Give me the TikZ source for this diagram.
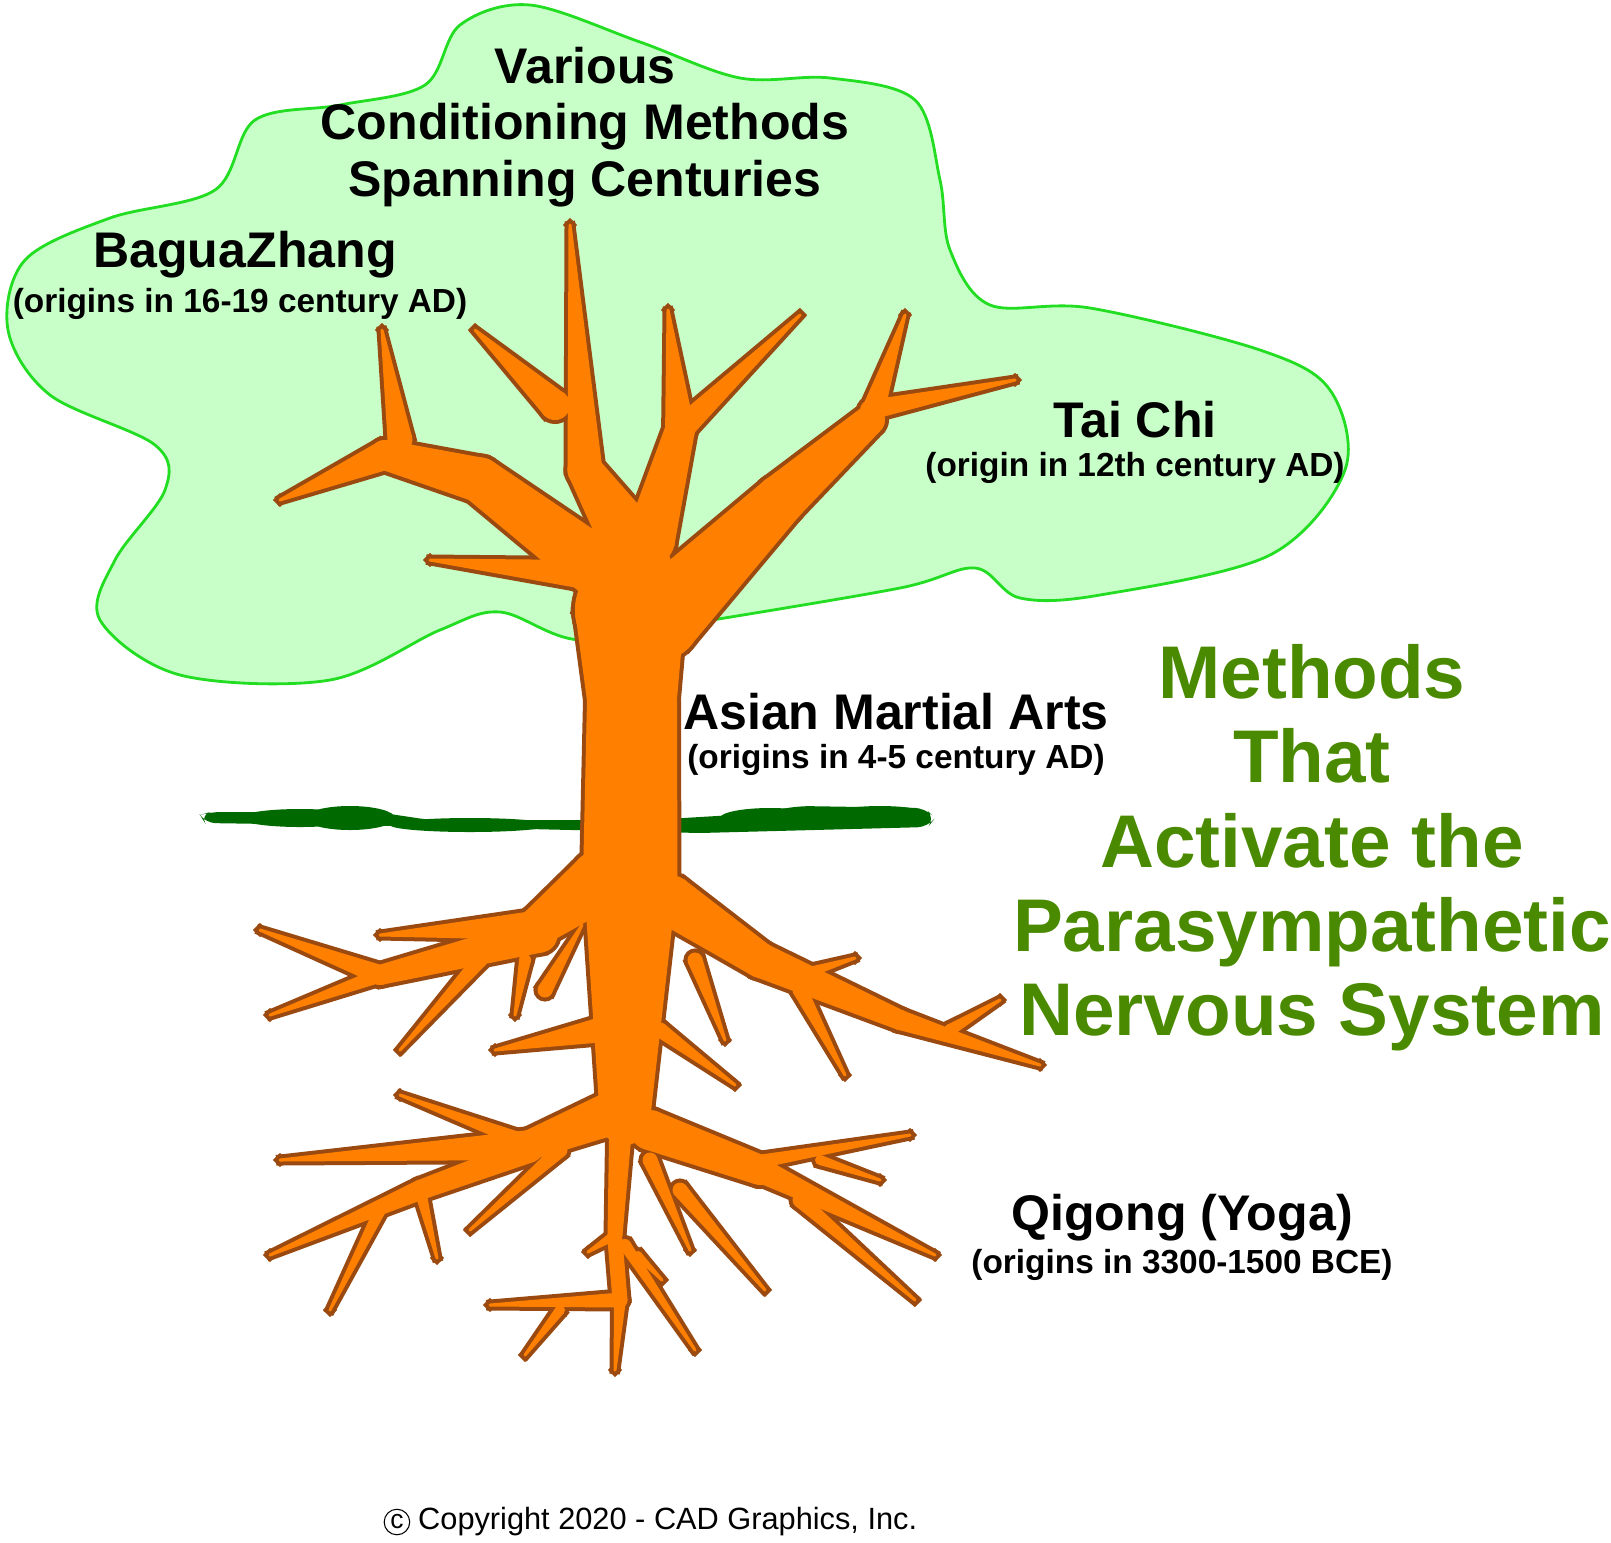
\documentclass[tikz,border=0pt]{standalone}
\usepackage{fontspec}
\setmainfont{Liberation Sans}
\usetikzlibrary{calc}
\definecolor{cloudfill}{HTML}{C8FFC8}
\definecolor{cloudline}{HTML}{22DD22}
\definecolor{bark}{HTML}{FF8000}
\definecolor{barkline}{HTML}{9A4A10}
\definecolor{grass}{HTML}{006A00}
\definecolor{titlegreen}{HTML}{4A8A00}
\newcommand\seg[4]{%
 \path[treepass] ($(#1)!#3cm!90:(#2)$) -- ($(#2)!#4cm!-90:(#1)$) -- ($(#2)!#4cm!90:(#1)$) -- ($(#1)!#3cm!-90:(#2)$) -- cycle;
 \path[treepass] (#1) circle (#3cm);
 \path[treepass] (#2) circle (#4cm);}
\newcommand\treeparts{%
 \seg{625,1120}{630,900}{0.5}{0.9}
 \seg{630,900}{632,700}{0.95}{0.9}
 \seg{632,700}{630,610}{0.9}{1.1}
 \seg{630,610}{630,540}{1.1}{0.7}
 \seg{630,540}{585,470}{0.6}{0.35}
 \seg{585,470}{570,225}{0.35}{0.03}
 \seg{555,405}{475,330}{0.3}{0.03}
 \seg{600,570}{480,480}{0.6}{0.45}
 \seg{480,480}{385,455}{0.45}{0.3}
 \seg{385,455}{280,500}{0.3}{0.03}
 \seg{400,440}{382,330}{0.25}{0.03}
 \seg{590,575}{430,560}{0.3}{0.03}
 \seg{650,540}{680,430}{0.5}{0.3}
 \seg{680,430}{668,310}{0.3}{0.03}
 \seg{680,430}{800,315}{0.25}{0.03}
 \seg{660,620}{780,500}{0.8}{0.5}
 \seg{780,500}{870,420}{0.5}{0.3}
 \seg{870,420}{905,315}{0.25}{0.03}
 \seg{870,410}{1015,380}{0.2}{0.03}
 \seg{600,880}{540,925}{0.6}{0.4}
 \seg{540,925}{380,935}{0.3}{0.03}
 \seg{540,935}{380,975}{0.35}{0.2}
 \seg{380,975}{260,930}{0.2}{0.03}
 \seg{380,975}{270,1015}{0.15}{0.03}
 \seg{480,960}{400,1050}{0.15}{0.03}
 \seg{525,960}{515,1015}{0.12}{0.03}
 \seg{545,990}{582,925}{0.15}{0.03}
 \seg{600,1030}{495,1050}{0.25}{0.03}
 \seg{670,900}{760,960}{0.5}{0.35}
 \seg{760,960}{900,1020}{0.35}{0.2}
 \seg{900,1020}{1040,1065}{0.2}{0.03}
 \seg{950,1030}{1000,1000}{0.12}{0.03}
 \seg{800,975}{855,958}{0.12}{0.03}
 \seg{800,990}{845,1075}{0.15}{0.03}
 \seg{695,960}{725,1040}{0.15}{0.03}
 \seg{660,1030}{735,1085}{0.15}{0.03}
 \seg{620,1110}{530,1145}{0.45}{0.3}
 \seg{530,1145}{280,1160}{0.3}{0.03}
 \seg{520,1140}{400,1095}{0.15}{0.03}
 \seg{530,1150}{420,1190}{0.25}{0.2}
 \seg{420,1190}{270,1255}{0.2}{0.03}
 \seg{420,1190}{437,1258}{0.12}{0.03}
 \seg{380,1210}{330,1310}{0.12}{0.03}
 \seg{560,1150}{470,1230}{0.15}{0.03}
 \seg{620,1140}{615,1235}{0.22}{0.15}
 \seg{615,1235}{588,1252}{0.1}{0.03}
 \seg{615,1240}{620,1300}{0.15}{0.15}
 \seg{620,1300}{490,1305}{0.15}{0.03}
 \seg{560,1310}{525,1355}{0.1}{0.03}
 \seg{620,1300}{615,1370}{0.12}{0.03}
 \seg{625,1245}{695,1350}{0.12}{0.03}
 \seg{638,1255}{662,1280}{0.08}{0.03}
 \seg{650,1130}{760,1170}{0.4}{0.3}
 \seg{760,1170}{935,1255}{0.25}{0.03}
 \seg{740,1165}{910,1135}{0.15}{0.03}
 \seg{820,1160}{880,1180}{0.1}{0.03}
 \seg{800,1200}{915,1300}{0.15}{0.03}
 \seg{650,1160}{690,1250}{0.15}{0.03}
 \seg{680,1190}{765,1290}{0.15}{0.03}
}
\begin{document}
\begin{tikzpicture}[x=0.02cm,y=-0.02cm,
  big/.style={font=\bfseries\fontsize{28.5}{32}\selectfont,align=center,text=black},
  sub/.style={font=\bfseries\fontsize{19}{22}\selectfont,text=black},
  green title/.style={font=\bfseries\fontsize{42.5}{48}\selectfont,align=center,text=titlegreen}]
\useasboundingbox (0,0) rectangle (1611,1542);
\draw[fill=cloudfill,draw=cloudline,line width=1.6pt] plot[smooth cycle,tension=0.55] coordinates{
 (100,620) (180,675) (330,680) (440,630) (500,612) (580,640) (700,622) (900,588) (975,568) (1020,598)
 (1100,595) (1270,555) (1345,470) (1330,390) (1260,350) (1090,308) (990,305) (950,250) (940,180)
 (915,100) (830,78) (740,78) (640,42) (530,5) (460,25) (425,85) (340,105) (255,120) (215,190)
 (110,218) (25,260) (8,330) (50,395) (155,445) (165,490) (115,560)};
\fill[grass,rounded corners=6pt] (200,815) -- (205,823) -- (400,826) -- (700,833) -- (928,827) -- (935,818) -- (925,808) -- (800,806) -- (750,814) -- (650,820) -- (430,820) -- (350,808) -- (300,812) -- (210,812) -- cycle;
\fill[grass] (300,818) ellipse (60 and 9) (350,818) ellipse (45 and 12) (770,818) ellipse (50 and 10) (880,815) ellipse (50 and 9) (470,825) ellipse (80 and 7);
\tikzset{treepass/.style={fill=barkline,draw=barkline,line width=0.16cm}}
\treeparts
\tikzset{treepass/.style={fill=bark}}
\treeparts
\node[big] (title) at (585,127) {Various\\Conditioning Methods\\Spanning Centuries};
\node[big] (bagua) at (245,255) {BaguaZhang};
\node[sub] (baguasub) at (240,304) {(origins in 16-19 century AD)};
\node[big] (taichi) at (1135,420) {Tai Chi};
\node[sub] (taichisub) at (1135,468) {(origin in 12th century AD)};
\node[big] (asian) at (896,712) {Asian Martial Arts};
\node[sub] (asiansub) at (896,760) {(origins in 4-5 century AD)};
\node[big] (qigong) at (1182,1218) {Qigong (Yoga)};
\node[sub] (qigongsub) at (1182,1265) {(origins in 3300-1500 BCE)};
\node[green title] (methods) at (1312,848) {Methods\\That\\Activate the\\Parasympathetic\\Nervous System};
\node[font=\fontsize{17.5}{20}\selectfont,anchor=west] (copy) at (412,1522) {Copyright 2020 - CAD Graphics, Inc.};
\node[circle,draw,line width=0.6pt,inner sep=1.2pt,font=\fontsize{15}{15}\selectfont,anchor=east] (cmark) at ([xshift=-1pt]copy.west) {c};
\end{tikzpicture}
\end{document}
